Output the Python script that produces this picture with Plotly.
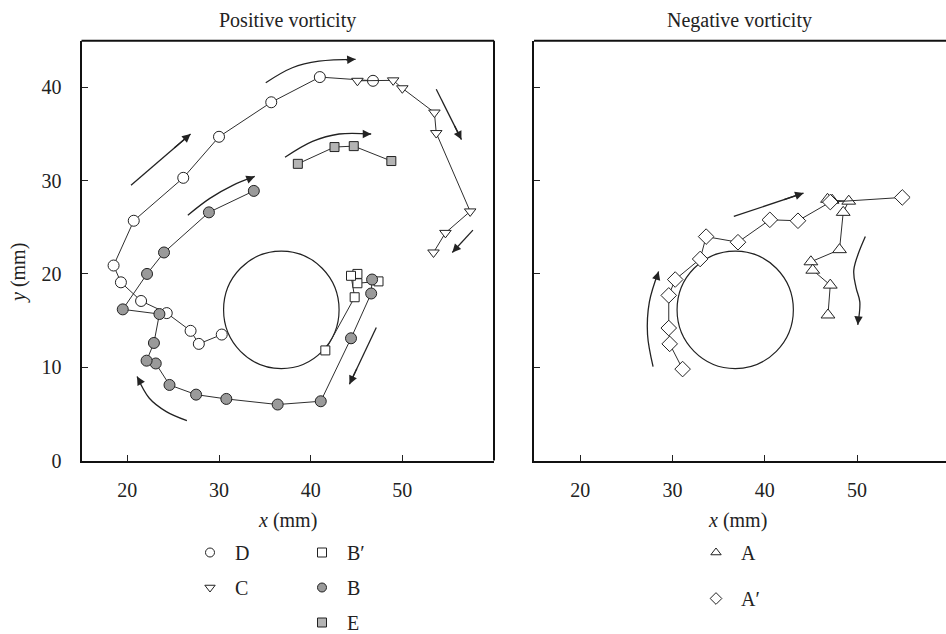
import plotly.graph_objects as go

# ---------------- data (mm) ----------------
D_x = [30.3, 27.8, 26.9, 24.3, 21.5, 19.3, 18.5, 20.7, 26.1, 30.0, 35.7, 41.0, 46.8]
D_y = [13.5, 12.5, 13.9, 15.8, 17.1, 19.1, 20.9, 25.7, 30.3, 34.7, 38.4, 41.1, 40.7]

C_x = [45.1, 49.0, 50.0, 53.5, 53.7, 57.4, 54.7, 53.4]
C_y = [40.7, 40.75, 39.9, 37.3, 35.1, 26.7, 24.4, 22.3]

E_x = [38.6, 42.6, 44.7, 48.8]
E_y = [31.8, 33.6, 33.7, 32.1]

B_x = [46.7, 46.6, 44.4, 41.1, 36.4, 30.8, 27.5, 24.6, 23.1, 22.1, 22.9, 23.5, 19.5, 22.15, 24.0, 28.9, 33.8]
B_y = [19.4, 17.9, 13.1, 6.35, 6.0, 6.6, 7.06, 8.1, 10.4, 10.7, 12.6, 15.7, 16.2, 20.0, 22.3, 26.6, 28.9]

Bp_x = [47.4, 45.1, 45.1, 44.4, 44.8, 41.6]
Bp_y = [19.2, 19.0, 20.0, 19.8, 17.5, 11.8]

A_x = [46.8, 47.3, 49.1, 48.5, 48.1, 45.0, 45.2, 47.1, 46.85]
A_y = [28.0, 27.9, 27.8, 26.6, 22.6, 21.3, 20.4, 18.8, 15.6]

Ap_x = [31.1, 29.7, 29.6, 29.6, 30.3, 33.0, 33.65, 37.1, 40.55, 43.6, 47.1, 54.9]
Ap_y = [9.8, 12.5, 14.2, 17.7, 19.4, 21.6, 24.0, 23.4, 25.8, 25.7, 27.7, 28.2]

# cylinder (circle) centre and radius
cyl_cx, cyl_cy, cyl_r = 36.8, 16.15, 6.3

# flow-direction arrows (paths in data coords, last point = arrow tip)
arrows_left = [
    ([35.1, 38.0, 40.9, 44.9], [40.5, 42.1, 42.8, 43.0]),
    ([53.7, 56.45], [39.8, 34.4]),
    ([20.4, 26.9], [29.5, 35.0]),
    ([37.2, 40.2, 43.1, 46.6], [32.5, 34.2, 35.0, 35.0]),
    ([26.6, 29.0, 31.5, 33.9], [26.3, 28.1, 29.5, 30.45]),
    ([57.7, 55.45], [24.7, 22.3]),
    ([26.5, 24.25, 22.4, 21.06], [4.27, 5.24, 6.67, 9.0]),
    ([47.16, 44.23], [14.25, 8.18]),
]
arrows_right = [
    ([36.65, 44.2], [26.16, 28.67]),
    ([27.9, 27.3, 27.5, 28.5], [10.06, 13.5, 17.0, 20.26]),
    ([50.9, 49.65, 49.9, 50.3, 50.08], [24.0, 20.44, 18.5, 17.0, 14.54]),
]

x_ticks = [20, 30, 40, 50]
y_ticks = [0, 10, 20, 30, 40]

# ---------------- styles ----------------
FONT = "'Liberation Serif', 'Times New Roman', serif"
LINE_C = "#2e2e2e"
GRAY = "#9a9a9a"
LGRAY = "#b4b4b4"
W, H = 946, 634

fig = go.Figure()

def series(x, y, xa, ya, symbol, size, fill, name, legend):
    fig.add_trace(go.Scatter(
        x=x, y=y, xaxis=xa, yaxis=ya, mode="lines+markers",
        line=dict(color=LINE_C, width=1),
        marker=dict(symbol=symbol, size=size, color=fill,
                    line=dict(color="#222", width=1)),
        showlegend=False, hoverinfo="skip"))
    fig.add_trace(go.Scatter(
        x=[None], y=[None], xaxis=xa, yaxis=ya, mode="markers", name=name,
        marker=dict(symbol=symbol, size=9, color=fill,
                    line=dict(color="#222", width=1)),
        legend=legend, legendgroup=name, showlegend=True))

def arrows(paths, xa, ya):
    for px, py in paths:
        fig.add_trace(go.Scatter(
            x=px, y=py, xaxis=xa, yaxis=ya, mode="lines",
            line=dict(color="#222", width=1.3, shape="spline"),
            showlegend=False, hoverinfo="skip"))
        tx = px[-1] - 0.3 * (px[-1] - px[-2])
        ty = py[-1] - 0.3 * (py[-1] - py[-2])
        fig.add_annotation(
            x=px[-1], y=py[-1], ax=tx, ay=ty,
            xref=xa, yref=ya, axref=xa, ayref=ya,
            text="", showarrow=True, arrowhead=2, arrowsize=1.3,
            arrowwidth=1.3, arrowcolor="#222")

# left panel
series(D_x, D_y, "x", "y", "circle", 11, "white", "D", "legend")
series(C_x, C_y, "x", "y", "triangle-down", 10, "white", "C", "legend")
series(Bp_x, Bp_y, "x", "y", "square", 9, "white", "B′", "legend2")
series(B_x, B_y, "x", "y", "circle", 11, GRAY, "B", "legend2")
series(E_x, E_y, "x", "y", "square", 9, LGRAY, "E", "legend2")
arrows(arrows_left, "x", "y")

# right panel
series(A_x, A_y, "x2", "y2", "triangle-up", 12, "white", "A", "legend3")
series(Ap_x, Ap_y, "x2", "y2", "diamond", 12, "white", "A′", "legend3")
arrows(arrows_right, "x2", "y2")

# cylinders
for xr, yr in (("x", "y"), ("x2", "y2")):
    fig.add_shape(type="circle", xref=xr, yref=yr,
                  x0=cyl_cx - cyl_r, x1=cyl_cx + cyl_r,
                  y0=cyl_cy - cyl_r, y1=cyl_cy + cyl_r,
                  line=dict(color="#222", width=1.2), layer="below")

# domains (pixels -> paper)
L_x0, L_x1 = 81.5 / W, 494 / W
R_x0, R_x1 = 534 / W, 1.0
Y0, Y1 = (H - 460.5) / H, (H - 40.7) / H

axis_common = dict(showline=True, linecolor="#111", linewidth=2, mirror=False,
                   ticks="inside", ticklen=6, tickwidth=1, tickcolor="#222",
                   showgrid=False, zeroline=False,
                   tickfont=dict(family=FONT, size=20, color="#222"))

leg_common = dict(xanchor="left", yanchor="top", font=dict(family=FONT, size=20),
                  traceorder="grouped", bgcolor="rgba(0,0,0,0)", itemwidth=40)

fig.update_layout(
    width=W, height=H, margin=dict(l=0, r=0, t=0, b=0, autoexpand=False),
    paper_bgcolor="white", plot_bgcolor="white",
    font=dict(family=FONT, color="#222"),
    xaxis=dict(domain=[L_x0, L_x1], range=[15, 60], tickvals=x_ticks,
               anchor="y", ticklabelstandoff=10, **axis_common),
    yaxis=dict(domain=[Y0, Y1], range=[0, 45], tickvals=y_ticks,
               anchor="x", ticklabelstandoff=14, **axis_common),
    xaxis2=dict(domain=[R_x0, R_x1], range=[15, 15 + (946 - 534) / 9.23],
                tickvals=x_ticks, anchor="y2", ticklabelstandoff=10, **axis_common),
    yaxis2=dict(domain=[Y0, Y1], range=[0, 45], tickvals=y_ticks,
                anchor="x2", showticklabels=False, **axis_common),
    legend=dict(x=185 / W, y=(H - 533) / H, tracegroupgap=6, **leg_common),
    legend2=dict(x=297 / W, y=(H - 533) / H, tracegroupgap=6, **leg_common),
    legend3=dict(x=691 / W, y=(H - 533) / H, tracegroupgap=17, **leg_common),
)

# top border lines for both panels and right border for left panel
fig.add_shape(type="line", xref="paper", yref="paper", x0=L_x0, x1=L_x1, y0=Y1, y1=Y1,
              line=dict(color="#111", width=2))
fig.add_shape(type="line", xref="paper", yref="paper", x0=L_x1, x1=L_x1, y0=Y0, y1=Y1,
              line=dict(color="#111", width=2))
fig.add_shape(type="line", xref="paper", yref="paper", x0=R_x0, x1=R_x1, y0=Y1, y1=Y1,
              line=dict(color="#111", width=2))

# titles
for xc, txt in (((L_x0 + L_x1) / 2, "Positive vorticity"), ((R_x0 + 944 / W) / 2, "Negative vorticity")):
    fig.add_annotation(x=xc, y=(H - 20) / H, xref="paper", yref="paper",
                       xanchor="center", yanchor="middle",
                       text=txt, showarrow=False, font=dict(family=FONT, size=20))
for xc in (287 / W, 737 / W):
    fig.add_annotation(x=xc, y=(H - 520) / H, xref="paper", yref="paper",
                       xanchor="center", yanchor="middle",
                       text="<i>x</i> (mm)", showarrow=False, font=dict(family=FONT, size=20))
fig.add_annotation(x=18 / W, y=(H - 273) / H, xref="paper", yref="paper",
                   xanchor="center", yanchor="middle",
                   text="<i>y</i> (mm)", textangle=-90, showarrow=False,
                   font=dict(family=FONT, size=20))

fig.write_html("out.html")
